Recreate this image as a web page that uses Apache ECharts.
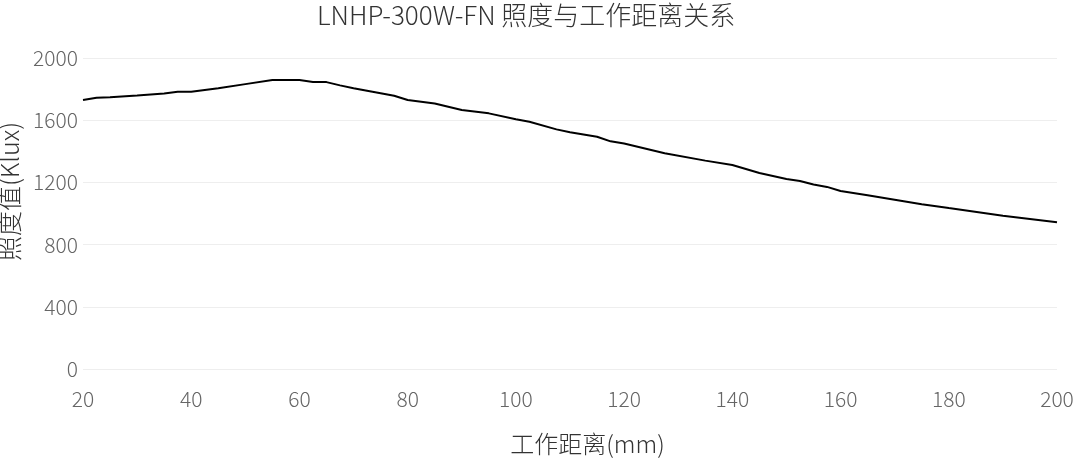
<!DOCTYPE html>
<html><head><meta charset="utf-8">
<script src="https://cdn.jsdelivr.net/npm/echarts@6/dist/echarts.min.js"></script>
<style>html,body{margin:0;padding:0;background:#fff}#c{width:1073px;height:460px}</style>
</head><body><div id="c"></div>
<script>
const titleText = 'LNHP-300W-FN 照度与工作距离关系';
const xName = '工作距离(mm)';
const yName = '照度值(Klux)';
const distances = [20, 22.5, 25, 30, 35, 37.5, 40, 45, 50, 55, 60, 62.5, 65, 67.5, 70, 75, 77.5, 80, 85, 90, 95, 100, 102.5, 107.5, 110, 115, 117.5, 120, 127.5, 135, 140, 145, 150, 152.5, 155, 157.5, 160, 165, 170, 175, 180, 190, 200];
const illuminance = [1730, 1745, 1747, 1759, 1772, 1783, 1783, 1806, 1832, 1858, 1858, 1845, 1845, 1824, 1805, 1773, 1757, 1730, 1708, 1665, 1644, 1606, 1590, 1541, 1522, 1494, 1464, 1450, 1388, 1340, 1312, 1260, 1222, 1209, 1186, 1171, 1145, 1118, 1089, 1060, 1035, 986, 944];
const yTicks = {min: 0, max: 2000, interval: 400};
const xTicks = {min: 20, max: 200, interval: 20};

const font = '"Noto Sans CJK SC", "Noto Sans", sans-serif';
const chart = echarts.init(document.getElementById('c'));
chart.setOption({
  animation: false,
  title: {text: titleText, left: 312, top: -3,
    textStyle: {fontFamily: font, fontWeight: 300, fontSize: 26, color: '#333'}},
  grid: {left: 83, right: 16, top: 58, bottom: 91, outerBoundsMode: 'none', containLabel: false},
  xAxis: {type: 'value', min: xTicks.min, max: xTicks.max, interval: xTicks.interval,
    name: xName, nameLocation: 'middle', nameGap: 63,
    nameTextStyle: {fontFamily: font, fontWeight: 300, fontSize: 24, color: '#333', padding: [0, 0, 0, 35]},
    axisLine: {show: false}, axisTick: {show: false}, splitLine: {show: false},
    axisLabel: {fontFamily: font, fontWeight: 300, fontSize: 21, color: '#666', margin: 20,
      formatter: v => String(v)}},
  yAxis: {type: 'value', min: yTicks.min, max: yTicks.max, interval: yTicks.interval,
    name: yName, nameLocation: 'middle', nameGap: 58,
    nameTextStyle: {fontFamily: font, fontWeight: 300, fontSize: 25, color: '#333', padding: [0, 0, 0, 44]},
    axisLine: {show: false}, axisTick: {show: false},
    splitLine: {lineStyle: {color: '#eeeeee', width: 1}},
    axisLabel: {fontFamily: font, fontWeight: 300, fontSize: 21, color: '#666', margin: 5,
      formatter: v => String(v)}},
  series: [{type: 'line', data: distances.map((d, i) => [d, illuminance[i]]),
    showSymbol: false, lineStyle: {color: '#000', width: 2}, itemStyle: {color: '#000'}}]
});
</script></body></html>
